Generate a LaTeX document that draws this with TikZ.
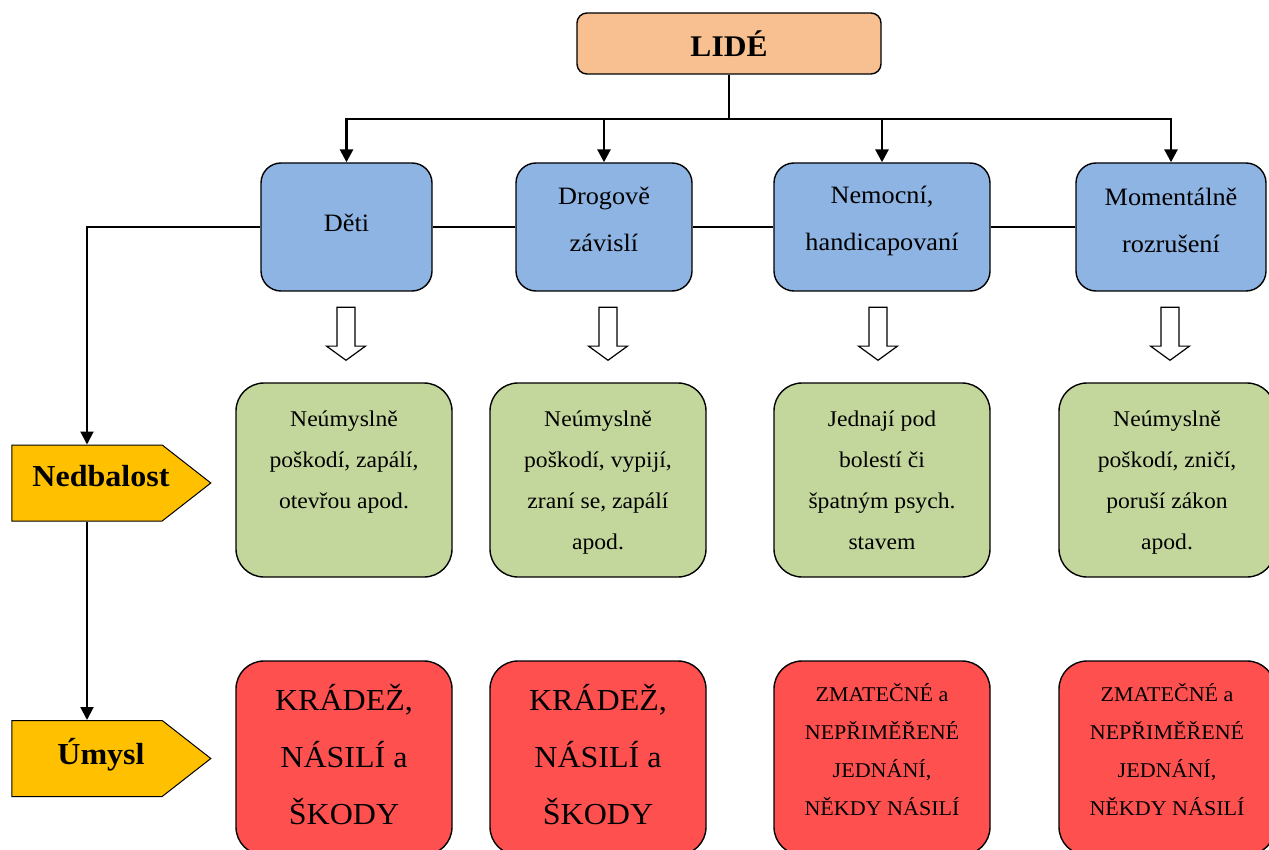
\documentclass[tikz,border=0pt]{standalone}
\usepackage{fontspec}
\setmainfont[FakeStretch=1.05]{Liberation Serif}
\usepackage{xcolor}
\usepackage{tikz}
\usetikzlibrary{positioning,arrows.meta,shapes.arrows,shapes.symbols}

\definecolor{peach}{RGB}{248,192,144}
\definecolor{skyblue}{RGB}{142,180,227}
\definecolor{olivegreen}{RGB}{195,214,155}
\definecolor{salmonred}{RGB}{255,80,80}
\definecolor{signyellow}{RGB}{255,192,0}

% text block inside a box: height, width, first baseline, lines
\newcommand{\boxtext}[4]{\parbox[c][#1][t]{#2}{\centering\rule{0pt}{#3}#4}}
% label of a signpost, pushed a bit towards the tip
\newcommand{\signtext}[1]{\makebox[0pt]{\hspace*{28pt}\raisebox{14pt}{#1}}}

\begin{document}
\begin{tikzpicture}[x=1pt,y=-1pt,>={Triangle[width=13pt,length=13pt]},
  box/.style={draw,line width=1.4pt,inner sep=0pt},
  topbox/.style={box,fill=peach,rounded corners=10pt,minimum width=304pt,minimum height=61pt,font=\bfseries\fontsize{30}{36}\selectfont},
  groupbox/.style={box,fill=skyblue,rounded corners=20pt,font=\fontsize{25}{47}\selectfont},
  actbox/.style={box,fill=olivegreen,rounded corners=28pt,font=\fontsize{22.5}{41}\selectfont},
  harmbox/.style={box,fill=salmonred,rounded corners=28pt},
  bigtext/.style={font=\fontsize{30.5}{57}\selectfont},
  smalltext/.style={font=\fontsize{21}{38}\selectfont},
  signpost/.style={signal,signal to=east,signal pointer angle=76,draw,line width=1pt,fill=signyellow,minimum width=199pt,minimum height=76pt,inner sep=0pt,font=\bfseries\fontsize{30.5}{36}\selectfont},
  hollow/.style={single arrow,draw,line width=1.2pt,fill=white,shape border rotate=270,minimum width=39pt,minimum height=53pt,single arrow head extend=10pt,single arrow tip angle=108,inner sep=8pt},
  trunk/.style={line width=2.8pt},
  link/.style={line width=2pt},
  thinlink/.style={line width=1.3pt}]

  \clip (0,0) rectangle (1269,850);

  % The top
  \node [topbox] at (729,43.5) (lide) {LIDÉ};
  \coordinate (bus) at (729,119);

  % The groups
  \node [groupbox] at (346.5,227) (deti) {\boxtext{128pt}{171pt}{69pt}{Děti}};
  \node [groupbox] at (604,227) (drog) {\boxtext{128pt}{176pt}{42pt}{Drogově\\závislí}};
  \node [groupbox] at (882,227) (nemoc) {\boxtext{128pt}{216pt}{41pt}{Nemocní,\\handicapovaní}};
  \node [groupbox] at (1171,227) (moment) {\boxtext{128pt}{190pt}{43pt}{Momentálně\\rozrušení}};

  % Hollow arrows
  \node [hollow] at (346,330.5) (ha1) {};
  \node [hollow] at (608,330.5) (ha2) {};
  \node [hollow] at (878,330.5) (ha3) {};
  \node [hollow] at (1170,330.5) (ha4) {};

  % Negligence
  \node [actbox] at (344,480) (act1) {\boxtext{194pt}{216pt}{43pt}{Neúmyslně\\poškodí, zapálí,\\otevřou apod.}};
  \node [actbox] at (598,480) (act2) {\boxtext{194pt}{216pt}{43pt}{Neúmyslně\\poškodí, vypijí,\\zraní se, zapálí\\apod.}};
  \node [actbox] at (882,480) (act3) {\boxtext{194pt}{216pt}{43pt}{Jednají pod\\bolestí či\\špatným psych.\\stavem}};
  \node [actbox] at (1167,480) (act4) {\boxtext{194pt}{216pt}{43pt}{Neúmyslně\\poškodí, zničí,\\poruší zákon\\apod.}};

  % Intent
  \node [harmbox,bigtext] at (344,758) (harm1) {\boxtext{194pt}{216pt}{49pt}{KRÁDEŽ,\\NÁSILÍ a\\ŠKODY}};
  \node [harmbox,bigtext] at (598,758) (harm2) {\boxtext{194pt}{216pt}{49pt}{KRÁDEŽ,\\NÁSILÍ a\\ŠKODY}};
  \node [harmbox,smalltext] at (882,758) (harm3) {\boxtext{194pt}{216pt}{40pt}{ZMATEČNÉ a\\NEPŘIMĚŘENÉ\\JEDNÁNÍ,\\NĚKDY NÁSILÍ}};
  \node [harmbox,smalltext] at (1167,758) (harm4) {\boxtext{194pt}{216pt}{40pt}{ZMATEČNÉ a\\NEPŘIMĚŘENÉ\\JEDNÁNÍ,\\NĚKDY NÁSILÍ}};

  % Signposts
  \node [signpost] at (87,483) (nedb) {\signtext{Nedbalost}};
  \node [signpost] at (87,758.5) (umysl) {\signtext{Úmysl}};

  % Edges
  \draw[trunk] (lide) -- (bus);
  \draw[trunk,->] (bus) -| (deti.north);
  \draw[trunk,->] (bus) -| (drog.north);
  \draw[trunk,->] (bus) -| (nemoc.north);
  \draw[trunk,->] (bus) -| (moment.north);

  \draw[thinlink] (deti.east) -- (drog.west);
  \draw[thinlink] (drog.east) -- (nemoc.west);
  \draw[thinlink] (nemoc.east) -- (moment.west);

  \draw[link,->] (deti.west) -| (nedb.north);
  \draw[link,->] (nedb.south) -- (umysl.north);

\end{tikzpicture}
\end{document}
